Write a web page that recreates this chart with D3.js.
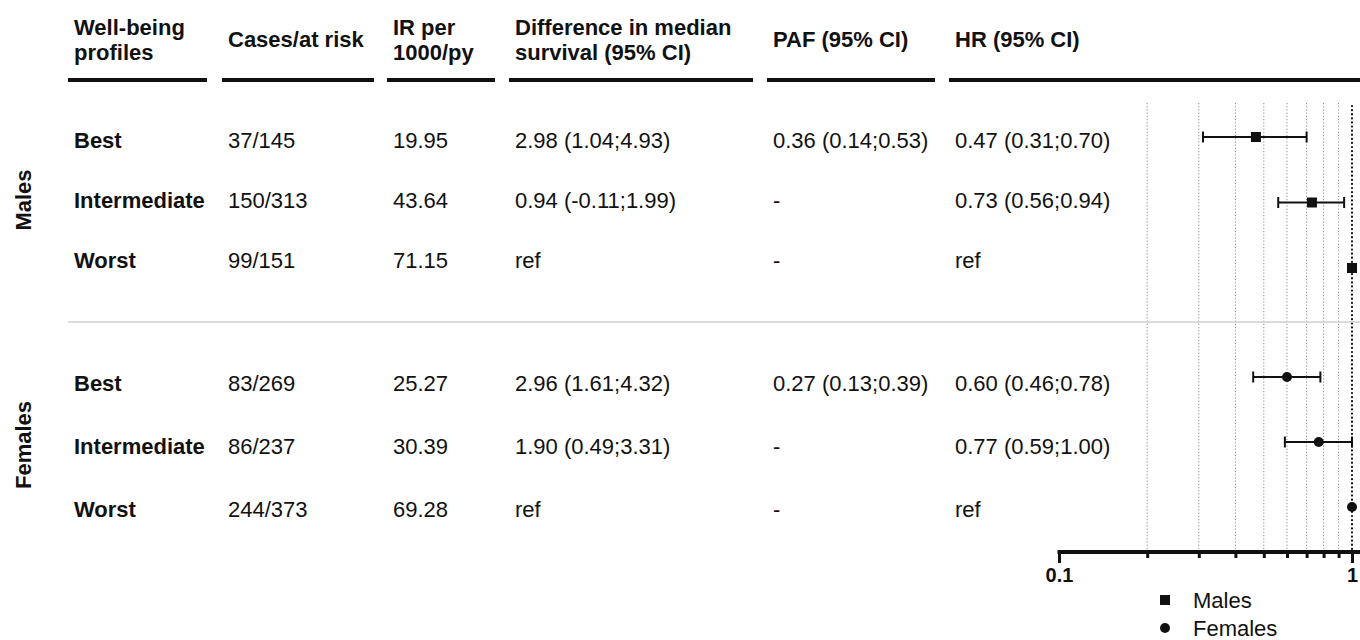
<!DOCTYPE html>
<html>
<head>
<meta charset="utf-8">
<script src="https://cdn.jsdelivr.net/npm/d3@7/dist/d3.min.js"></script>
<style>
  html, body { margin: 0; padding: 0; background: #fff; }
  svg { display: block; }
  text { font-family: "Liberation Sans", Arial, Helvetica, sans-serif; fill: #111; }
</style>
</head>
<body>
<svg id="chart" width="1360" height="640"></svg>
<script>
// ---- Data -------------------------------------------------------------
const groups = ["Males", "Females"];
const profiles = ["Best", "Intermediate", "Worst"];
const headers = [
  ["Well-being", "profiles"],
  ["Cases/at risk"],
  ["IR per", "1000/py"],
  ["Difference in median", "survival (95% CI)"],
  ["PAF (95% CI)"],
  ["HR (95% CI)"]
];
const casesAtRisk = [["37/145", "150/313", "99/151"], ["83/269", "86/237", "244/373"]];
const irPer1000 = [["19.95", "43.64", "71.15"], ["25.27", "30.39", "69.28"]];
const medianDiff = [
  ["2.98 (1.04;4.93)", "0.94 (-0.11;1.99)", "ref"],
  ["2.96 (1.61;4.32)", "1.90 (0.49;3.31)", "ref"]
];
const paf = [["0.36 (0.14;0.53)", "-", "-"], ["0.27 (0.13;0.39)", "-", "-"]];
// Hazard ratios; the reference category (Worst) has no interval
const hr = [[0.47, 0.73, 1], [0.60, 0.77, 1]];
const hrLow = [[0.31, 0.56, null], [0.46, 0.59, null]];
const hrHigh = [[0.70, 0.94, null], [0.78, 1.00, null]];
const axisTicks = [0.1, 0.2, 0.3, 0.4, 0.5, 0.6, 0.7, 0.8, 0.9, 1];
const axisLabels = ["0.1", "1"];

// ---- Layout -----------------------------------------------------------
const svg = d3.select("#chart");
const FS = 22;
const colLeft = [68, 222, 387, 509, 767, 949];
const colRight = [207, 374, 495, 753, 935, 1360];
const textPad = 6;
const headerRuleY = 80;

// Row positions: table text baselines and forest-plot centres per group
const tableRows = [
  d3.scalePoint().domain(profiles).range([148, 268]),
  d3.scalePoint().domain(profiles).range([391, 517])
];
const plotRows = [
  d3.scalePoint().domain(profiles).range([137, 268]),
  d3.scalePoint().domain(profiles).range([377, 507])
];
const groupLabelY = [200, 445];

const x = d3.scaleLog().domain([0.1, 1]).range([1059, 1352]);
const gridTop = 103, axisY = 552;

// ---- Column headers -----------------------------------------------------
headers.forEach((lines, i) => {
  if (lines.length === 1) {
    svg.append("text")
      .attr("x", colLeft[i] + textPad).attr("y", 47)
      .attr("font-size", FS).attr("font-weight", "bold")
      .text(lines[0]);
  } else {
    lines.forEach((ln, j) => {
      svg.append("text")
        .attr("x", colLeft[i] + textPad).attr("y", 35 + j * 25)
        .attr("font-size", FS).attr("font-weight", "bold")
        .text(ln);
    });
  }
  svg.append("line")
    .attr("x1", colLeft[i]).attr("x2", colRight[i])
    .attr("y1", headerRuleY).attr("y2", headerRuleY)
    .attr("stroke", "#111").attr("stroke-width", 4.2);
});

// ---- Gridlines -----------------------------------------------------------
svg.append("g").selectAll("line")
  .data(axisTicks.filter(v => v > 0.1 && v < 1))
  .join("line")
  .attr("x1", d => x(d)).attr("x2", d => x(d))
  .attr("y1", gridTop).attr("y2", axisY)
  .attr("stroke", "#8a8a8a").attr("stroke-width", 1)
  .attr("stroke-dasharray", "1.2,2");

// reference line at HR = 1
svg.append("line")
  .attr("x1", x(1)).attr("x2", x(1))
  .attr("y1", gridTop + 3).attr("y2", axisY)
  .attr("stroke", "#111").attr("stroke-width", 2.2)
  .attr("stroke-linecap", "round")
  .attr("stroke-dasharray", "0.1,4");

// ---- Group separator ------------------------------------------------------
svg.append("line")
  .attr("x1", 68).attr("x2", 1360).attr("y1", 322).attr("y2", 322)
  .attr("stroke", "#cfcfcf").attr("stroke-width", 1.5);

// ---- Table body -----------------------------------------------------------
const fmt = d3.format(".2f");
groups.forEach((g, gi) => {
  svg.append("text")
    .attr("transform", `translate(31,${groupLabelY[gi]}) rotate(-90)`)
    .attr("text-anchor", "middle")
    .attr("font-size", FS).attr("font-weight", "bold")
    .text(g);

  profiles.forEach((p, pi) => {
    const y = tableRows[gi](p);
    const hrText = hrLow[gi][pi] === null
      ? "ref"
      : `${fmt(hr[gi][pi])} (${fmt(hrLow[gi][pi])};${fmt(hrHigh[gi][pi])})`;
    const cells = [p, casesAtRisk[gi][pi], irPer1000[gi][pi], medianDiff[gi][pi], paf[gi][pi], hrText];
    cells.forEach((c, ci) => {
      svg.append("text")
        .attr("x", colLeft[ci] + textPad).attr("y", y)
        .attr("font-size", FS)
        .attr("font-weight", ci === 0 ? "bold" : "normal")
        .text(c);
    });
  });
});

// ---- Forest plot -------------------------------------------------------------
const capH = 5.5;
const symbols = [d3.symbolSquare, d3.symbolCircle];
const symbolSizes = [100, 78];
groups.forEach((g, gi) => {
  const gEl = svg.append("g");
  profiles.forEach((p, pi) => {
    const cy = plotRows[gi](p);
    if (hrLow[gi][pi] !== null) {
      const x0 = x(hrLow[gi][pi]), x1 = x(hrHigh[gi][pi]);
      gEl.append("line").attr("x1", x0).attr("x2", x1).attr("y1", cy).attr("y2", cy)
        .attr("stroke", "#111").attr("stroke-width", 1.8);
      [x0, x1].forEach(xx => {
        gEl.append("line").attr("x1", xx).attr("x2", xx)
          .attr("y1", cy - capH).attr("y2", cy + capH)
          .attr("stroke", "#111").attr("stroke-width", 2);
      });
    }
    gEl.append("path")
      .attr("d", d3.symbol().type(symbols[gi]).size(symbolSizes[gi])())
      .attr("transform", `translate(${x(hr[gi][pi])},${cy})`)
      .attr("fill", "#111");
  });
});

// ---- Axis --------------------------------------------------------------------
const axis = d3.axisBottom(x)
  .tickValues(axisTicks)
  .tickSize(6)
  .tickSizeOuter(0)
  .tickFormat(d => {
    const s = d3.format("~g")(d);
    return axisLabels.includes(s) ? s : "";
  });
const axG = svg.append("g").attr("transform", `translate(0,${axisY})`).call(axis);
axG.select(".domain").remove();
axG.selectAll(".tick line")
  .attr("stroke", "#111").attr("stroke-width", 3)
  .attr("y2", d => axisLabels.includes(d3.format("~g")(d)) ? 11 : 6);
axG.selectAll(".tick text")
  .attr("y", 30).attr("dy", 0)
  .attr("font-size", 20).attr("font-weight", "bold")
  .attr("fill", "#111")
  .style("font-family", "'Liberation Sans', Arial, sans-serif");
axG.append("line")
  .attr("x1", x(0.1) - 1.5).attr("x2", 1360).attr("y1", 0).attr("y2", 0)
  .attr("stroke", "#111").attr("stroke-width", 4);

// ---- Legend --------------------------------------------------------------------
const legend = svg.append("g");
groups.forEach((g, gi) => {
  const ly = 600 + gi * 28;
  legend.append("path")
    .attr("d", d3.symbol().type(symbols[gi]).size(symbolSizes[gi])())
    .attr("transform", `translate(1165,${ly})`)
    .attr("fill", "#111");
  legend.append("text")
    .attr("x", 1193).attr("y", ly + 7.5)
    .attr("font-size", FS)
    .text(g);
});
</script>
</body>
</html>
